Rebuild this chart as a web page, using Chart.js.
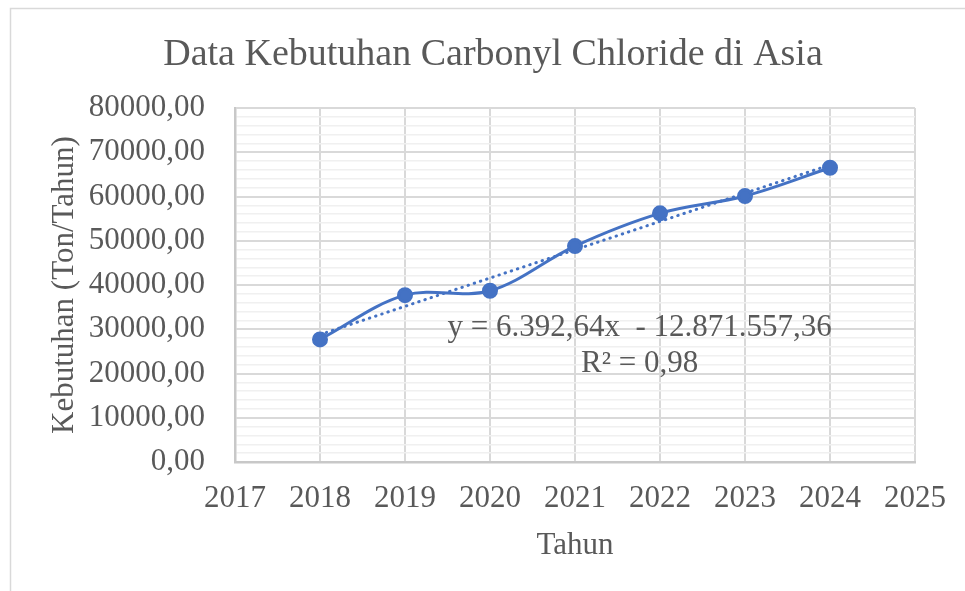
<!DOCTYPE html>
<html>
<head>
<meta charset="utf-8">
<script src="https://cdn.jsdelivr.net/npm/chart.js@4.4.1/dist/chart.umd.min.js"></script>
<style>
  html, body { margin: 0; padding: 0; background: #fff; }
  #wrap { position: relative; width: 965px; height: 591px; }
</style>
</head>
<body>
<div id="wrap"><canvas id="myChart" width="965" height="591"></canvas></div>
<script>
// data
var years = [2018, 2019, 2020, 2021, 2022, 2023, 2024];
var demand = [27700, 37700, 38700, 48800, 56200, 60100, 66500];
var trendSlope = 6392.64;
var trendIntercept = -12871557.36;
var trendText = ["y = 6.392,64x  - 12.871.557,36", "R\u00B2 = 0,98"];
var chartTitle = "Data Kebutuhan Carbonyl Chloride di Asia";

var blue = "#4472C4";
var grey = "#595959";
var serif = "'Liberation Serif', 'Times New Roman', serif";

var points = years.map(function(y, i) { return {x: y, y: demand[i]}; });
var trendPoints = [years[0], years[years.length - 1]].map(function(y) {
  return {x: y, y: trendSlope * y + trendIntercept};
});

// outer frame, title, trend equation
var extras = {
  id: 'extras',
  beforeDraw: function(chart) {
    var c = chart.ctx;
    c.save();
    c.strokeStyle = "#d9d9d9";
    c.lineWidth = 1.5;
    c.beginPath();
    c.moveTo(10.5, 600);
    c.lineTo(10.5, 8.5);
    c.lineTo(1000, 8.5);
    c.stroke();
    c.font = "38px " + serif;
    c.fillStyle = grey;
    c.textAlign = "center";
    c.textBaseline = "middle";
    c.fillText(chartTitle, 493, 55);
    c.restore();
  },
  afterDatasetsDraw: function(chart) {
    var c = chart.ctx;
    var xs = chart.scales.x, ys = chart.scales.y;
    var px = xs.getPixelForValue(2021.76);
    var py = ys.getPixelForValue(30400);
    c.save();
    c.font = "31px " + serif;
    c.fillStyle = grey;
    c.textAlign = "center";
    c.textBaseline = "middle";
    c.fillText(trendText[0], px, py);
    c.fillText(trendText[1], px, py + 36);
    c.restore();
  }
};

var ctx = document.getElementById("myChart").getContext('2d');
var myChart = new Chart(ctx, {
  type: 'scatter',
  data: {
    datasets: [{
      data: points,
      showLine: true,
      borderColor: blue,
      backgroundColor: blue,
      borderWidth: 3,
      tension: 0.35,
      pointRadius: 6.5,
      pointHoverRadius: 6.5,
      order: 1
    }, {
      data: trendPoints,
      showLine: true,
      borderColor: blue,
      borderWidth: 3,
      borderDash: [0.5, 6],
      borderCapStyle: 'round',
      pointRadius: 0,
      order: 2
    }]
  },
  options: {
    responsive: false,
    animation: false,
    layout: { padding: { left: 0, right: 50, top: 108, bottom: 0 } },
    plugins: {
      legend: { display: false },
      tooltip: { enabled: false },
      title: { display: false }
    },
    scales: {
      x: {
        type: 'linear',
        min: 2017,
        max: 2025,
        border: { color: "#c8c8c8", width: 2.5 },
        grid: { color: "#d9d9d9", lineWidth: 2, drawTicks: false },
        ticks: {
          stepSize: 1,
          color: grey,
          padding: 18,
          font: { family: serif, size: 31 },
          callback: function(v) { return String(v); }
        },
        title: {
          display: true,
          text: "Tahun",
          color: grey,
          font: { family: serif, size: 31 },
          padding: { top: 0, bottom: 27 }
        },
        afterFit: function(s) { s.height = 129; }
      },
      y: {
        min: 0,
        max: 80000,
        border: { color: "#c8c8c8", width: 2.5 },
        grid: {
          drawTicks: false,
          color: function(c) { return c.tick.value % 10000 === 0 ? "#d9d9d9" : "#f0f0f0"; },
          lineWidth: function(c) { return c.tick.value % 10000 === 0 ? 2 : 1.5; }
        },
        ticks: {
          stepSize: 2000,
          autoSkip: false,
          color: grey,
          padding: 30,
          font: { family: serif, size: 31 },
          callback: function(v) {
            return v % 10000 === 0 ? v.toFixed(2).replace('.', ',') : '';
          }
        },
        title: {
          display: true,
          text: "Kebutuhan (Ton/Tahun)",
          color: grey,
          font: { family: serif, size: 31 },
          padding: { top: 46, bottom: 0 }
        },
        afterFit: function(s) { s.width = 235; }
      }
    }
  },
  plugins: [extras]
});
</script>
</body>
</html>
